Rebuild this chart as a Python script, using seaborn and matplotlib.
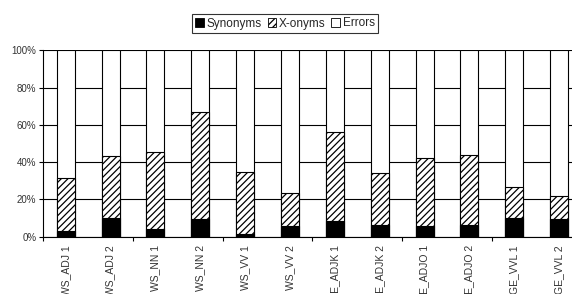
import numpy as np
import pandas as pd
import matplotlib
matplotlib.use("Agg")
import matplotlib.pyplot as plt
import matplotlib.font_manager as fm
import seaborn as sns
from matplotlib.patches import Patch

categories = ["WS_ADJ 1", "WS_ADJ 2", "WS_NN 1", "WS_NN 2", "WS_VV 1", "WS_VV 2",
              "GE_ADJK 1", "GE_ADJK 2", "GE_ADJO 1", "GE_ADJO 2", "GE_VVL 1", "GE_VVL 2"]
synonyms = [3.0, 10.2, 4.0, 9.5, 1.6, 5.6, 8.6, 6.3, 5.7, 6.3, 9.9, 9.3]
x_onyms = [28.5, 33.3, 41.3, 57.5, 33.1, 17.7, 47.4, 28.1, 36.3, 37.7, 16.9, 12.7]
errors = [68.5, 56.5, 54.7, 33.0, 65.3, 76.7, 44.0, 65.6, 58.0, 56.0, 73.2, 78.0]

# keep the regular Liberation Sans, not the Narrow cut
fm.fontManager.ttflist = [f for f in fm.fontManager.ttflist if "Narrow" not in f.fname]

sns.set_theme(style="white")
plt.rcParams['font.family'] = ['Liberation Sans', 'DejaVu Sans']
plt.rcParams['hatch.linewidth'] = 0.9
plt.rcParams['hatch.color'] = 'black'

df = pd.DataFrame({"cat": categories, "syn": synonyms, "xon": x_onyms, "err": errors})
df["lvl2"] = df["syn"] + df["xon"]
df["lvl3"] = df["lvl2"] + df["err"]

fig = plt.figure(figsize=(5.72, 2.94), dpi=100)
ax = fig.add_axes([0.0757, 0.195, 0.941, 0.634])

# stacked bars: draw the full height first, then the lower parts on top
bar_kw = dict(width=0.4, edgecolor="black", linewidth=0.8, ax=ax, order=categories)
sns.barplot(data=df, x="cat", y="lvl3", color="white", **bar_kw)
sns.barplot(data=df, x="cat", y="lvl2", color="white", hatch="/////", **bar_kw)
sns.barplot(data=df, x="cat", y="syn", color="black", **bar_kw)

ax.set_ylim(0, 100)
ax.set_xlim(-0.5, len(categories) - 0.5)
ax.set_yticks([0, 20, 40, 60, 80, 100])
ax.set_yticklabels([f"{v}%" for v in [0, 20, 40, 60, 80, 100]], fontsize=7, color="#333333")
ax.yaxis.grid(True, color="black", linewidth=0.8)
ax.set_axisbelow(True)

ax.set_xticks(range(len(categories)))
ax.set_xticklabels(categories, rotation=90, fontsize=7.5, color="#333333")
ax.tick_params(axis="x", which="major", length=0, pad=6)
ax.set_xticks(np.arange(-0.5, len(categories), 2), minor=True)
ax.tick_params(axis="x", which="minor", length=3, width=0.8, color="black", direction="out", bottom=True)
ax.tick_params(axis="y", length=3, width=0.8, color="black", direction="out", left=True, pad=2)

ax.set_xlabel("")
ax.set_ylabel("")
for s in ["top", "right"]:
    ax.spines[s].set_visible(False)
for s in ["left", "bottom"]:
    ax.spines[s].set_color("black")
    ax.spines[s].set_linewidth(0.8)

handles = [
    Patch(facecolor="black", edgecolor="black", linewidth=0.6, label="Synonyms"),
    Patch(facecolor="white", edgecolor="black", linewidth=0.6, hatch="/////", label="X-onyms"),
    Patch(facecolor="white", edgecolor="black", linewidth=0.6, label="Errors"),
]
leg = fig.legend(handles=handles, loc="center", bbox_to_anchor=(285 / 572, 1 - 23.5 / 294),
                 ncol=3, fontsize=8.5, frameon=True, fancybox=False, handlelength=0.75,
                 handleheight=0.75, handletextpad=0.2, columnspacing=0.5,
                 borderpad=0.3, borderaxespad=0)
leg.get_frame().set_edgecolor("black")
leg.get_frame().set_linewidth(0.8)

fig.savefig("out.png", dpi=100)
